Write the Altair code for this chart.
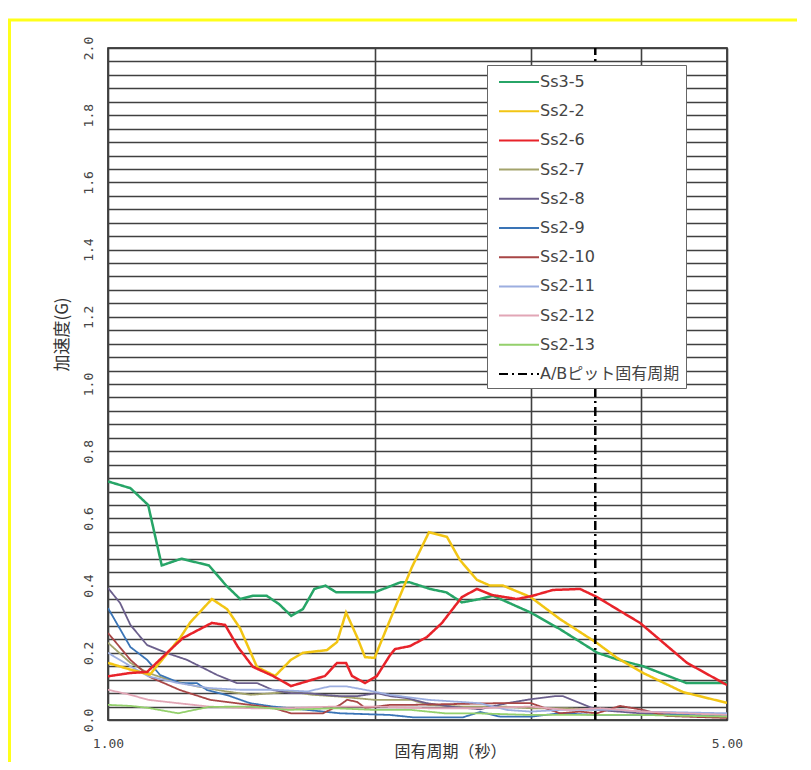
import altair as alt
import pandas as pd

# ---- data (period in s, acceleration in G) ----
names = ["Ss3-5", "Ss2-2", "Ss2-6", "Ss2-7", "Ss2-8", "Ss2-9", "Ss2-10",
         "Ss2-11", "Ss2-12", "Ss2-13", "A/Bピット固有周期"]
colors = ["#27a567", "#f2c514", "#e8232a", "#a3a36c", "#6b5f8c", "#3a74b6",
          "#a84646", "#9caee0", "#e2a6b6", "#94d06c", "#000000"]
major = ["Ss3-5", "Ss2-2", "Ss2-6", "A/Bピット固有周期"]

t_ss35 = [1.0, 1.06, 1.11, 1.15, 1.21, 1.30, 1.36, 1.41, 1.46, 1.51, 1.56, 1.61, 1.66,
          1.71, 1.76, 1.81, 2.0, 2.14, 2.19, 2.31, 2.41, 2.51, 2.63, 2.72, 3.0, 3.24,
          3.57, 3.76, 4.02, 4.5, 5.0]
a_ss35 = [0.71, 0.69, 0.64, 0.46, 0.48, 0.46, 0.40, 0.36, 0.37, 0.37, 0.345, 0.31, 0.33,
          0.39, 0.40, 0.38, 0.38, 0.41, 0.41, 0.39, 0.38, 0.35, 0.36, 0.37, 0.32, 0.27,
          0.20, 0.18, 0.16, 0.11, 0.11]

t_ss22 = [1.0, 1.06, 1.115, 1.16, 1.206, 1.238, 1.31, 1.363, 1.409, 1.473, 1.544, 1.609,
          1.66, 1.767, 1.814, 1.857, 1.911, 1.951, 2.0, 2.082, 2.204, 2.304, 2.414, 2.497,
          2.61, 2.70, 2.793, 3.0, 3.24, 3.566, 3.756, 4.02, 4.46, 5.0]
a_ss22 = [0.17, 0.15, 0.135, 0.19, 0.244, 0.29, 0.36, 0.33, 0.274, 0.158, 0.131, 0.179,
          0.20, 0.208, 0.232, 0.32, 0.247, 0.187, 0.185, 0.298, 0.455, 0.559, 0.545, 0.476,
          0.417, 0.40, 0.40, 0.366, 0.30, 0.229, 0.185, 0.14, 0.083, 0.051]

t_ss26 = [1.0, 1.06, 1.107, 1.166, 1.215, 1.31, 1.356, 1.402, 1.458, 1.536, 1.609, 1.758,
          1.814, 1.857, 1.886, 1.951, 2.012, 2.082, 2.109, 2.193, 2.292, 2.383, 2.51, 2.61,
          2.714, 2.896, 3.01, 3.18, 3.412, 3.566, 3.756, 3.988, 4.506, 5.0]
a_ss26 = [0.13, 0.14, 0.143, 0.20, 0.244, 0.289, 0.283, 0.217, 0.158, 0.131, 0.101, 0.131,
          0.17, 0.17, 0.131, 0.11, 0.131, 0.193, 0.211, 0.22, 0.247, 0.289, 0.366, 0.39,
          0.372, 0.36, 0.369, 0.387, 0.39, 0.366, 0.33, 0.289, 0.17, 0.104]

t_ss27 = [1.0, 1.06, 1.11, 1.17, 1.26, 1.36, 1.45, 1.54, 1.61, 1.70, 1.82, 2.0, 2.2, 2.3,
          2.5, 2.8, 3.0, 3.3, 3.6, 4.0, 4.5, 5.0]
a_ss27 = [0.23, 0.17, 0.14, 0.12, 0.10, 0.085, 0.075, 0.08, 0.085, 0.075, 0.07, 0.06, 0.06,
          0.045, 0.04, 0.04, 0.035, 0.035, 0.03, 0.025, 0.02, 0.01]

t_ss28 = [1.0, 1.032, 1.06, 1.107, 1.166, 1.228, 1.328, 1.398, 1.473, 1.536, 1.609, 1.678,
          1.767, 1.828, 1.911, 2.012, 2.082, 2.176, 2.292, 2.452, 2.631, 2.822, 3.004,
          3.197, 3.264, 3.566, 3.988, 5.0]
a_ss28 = [0.393, 0.348, 0.283, 0.223, 0.199, 0.179, 0.134, 0.11, 0.11, 0.089, 0.08, 0.08,
          0.074, 0.071, 0.071, 0.08, 0.071, 0.065, 0.05, 0.039, 0.032, 0.05, 0.062, 0.071,
          0.071, 0.03, 0.02, 0.015]

t_ss29 = [1.0, 1.06, 1.107, 1.145, 1.206, 1.26, 1.294, 1.363, 1.447, 1.536, 1.678, 1.828,
          2.082, 2.21, 2.517, 2.631, 2.771, 3.004, 3.239, 3.566, 5.0]
a_ss29 = [0.333, 0.217, 0.179, 0.134, 0.11, 0.11, 0.089, 0.074, 0.05, 0.04, 0.03, 0.02,
          0.015, 0.008, 0.008, 0.024, 0.01, 0.01, 0.02, 0.015, 0.015]

t_ss210 = [1.0, 1.06, 1.115, 1.206, 1.304, 1.447, 1.536, 1.609, 1.749, 1.828, 1.862, 1.911,
           1.951, 2.082, 2.193, 2.749, 3.004, 3.239, 3.412, 3.566, 3.786, 4.019, 4.277, 5.0]
a_ss210 = [0.259, 0.179, 0.128, 0.089, 0.06, 0.045, 0.036, 0.02, 0.02, 0.045, 0.06, 0.054,
           0.036, 0.045, 0.045, 0.05, 0.05, 0.02, 0.025, 0.02, 0.042, 0.03, 0.012, 0.006]

t_ss211 = [1.0, 1.06, 1.11, 1.2, 1.3, 1.41, 1.54, 1.68, 1.78, 1.86, 1.95, 2.08, 2.3, 2.63,
           2.82, 3.0, 3.24, 3.57, 3.76, 4.0, 5.0]
a_ss211 = [0.20, 0.16, 0.13, 0.11, 0.095, 0.09, 0.09, 0.085, 0.10, 0.10, 0.09, 0.075, 0.06,
           0.05, 0.03, 0.025, 0.03, 0.03, 0.03, 0.025, 0.02]

t_ss212 = [1.0, 1.06, 1.11, 1.2, 1.3, 1.45, 1.6, 1.8, 2.0, 2.3, 2.6, 3.0, 3.3, 3.6, 4.0, 5.0]
a_ss212 = [0.09, 0.075, 0.06, 0.05, 0.04, 0.035, 0.035, 0.04, 0.04, 0.035, 0.035, 0.04,
           0.03, 0.035, 0.025, 0.015]

t_ss213 = [1.0, 1.06, 1.11, 1.2, 1.3, 1.45, 1.6, 1.8, 2.0, 2.2, 2.4, 2.6, 3.0, 3.5, 4.0, 5.0]
a_ss213 = [0.045, 0.042, 0.036, 0.02, 0.039, 0.04, 0.03, 0.035, 0.03, 0.03, 0.02, 0.02,
           0.015, 0.015, 0.015, 0.01]

t_pit = [3.55, 3.55]
a_pit = [0.0, 2.0]

x_ticks = [1, 2, 3, 4, 5]
y_ticks = [round(i * 0.04, 2) for i in range(51)]

series = [
    (names[0], t_ss35, a_ss35), (names[1], t_ss22, a_ss22), (names[2], t_ss26, a_ss26),
    (names[3], t_ss27, a_ss27), (names[4], t_ss28, a_ss28), (names[5], t_ss29, a_ss29),
    (names[6], t_ss210, a_ss210), (names[7], t_ss211, a_ss211), (names[8], t_ss212, a_ss212),
    (names[9], t_ss213, a_ss213), (names[10], t_pit, a_pit),
]
rows = []
for name, ts, accs in series:
    for i, (t, a) in enumerate(zip(ts, accs)):
        rows.append({"T": t, "acc": a, "series": name, "i": i,
                     "major": name in major})
df = pd.DataFrame(rows)

dashes = [[1, 0]] * 10 + [[9, 4, 2, 4]]

W, H = 619, 672

legend = alt.Legend(
    title=None, orient="none", legendX=379, legendY=17,
    fillColor="white", strokeColor="#666", padding=6,
    symbolType="M-0.5,0H3.5", symbolSize=400, symbolStrokeWidth=2,
    labelFont="DejaVu Sans, Noto Sans CJK JP", labelFontSize=16, labelColor="#444",
    labelOffset=25, rowPadding=10.2, labelLimit=300,
)

x_enc = alt.X("T:Q",
              scale=alt.Scale(type="log", domain=[1, 5], nice=False),
              axis=alt.Axis(values=x_ticks, grid=True, ticks=False, domain=False,
                            labelExpr="(datum.value == 1 || datum.value == 5) ? format(datum.value, '.2f') : ''",
                            labelFlush=False, labelPadding=17, labelFont="DejaVu Sans Mono",
                            labelFontSize=13, labelColor="#444",
                            title="固有周期（秒）", titleFont="Noto Sans CJK JP",
                            titleFontSize=16, titleFontWeight="normal", titleColor="#333",
                            titleX=342, titleY=31, titleBaseline="middle", titleAlign="center"))
y_enc = alt.Y("acc:Q",
              scale=alt.Scale(domain=[0, 2], nice=False, zero=True),
              axis=alt.Axis(values=y_ticks, grid=True, ticks=False, domain=False,
                            labelExpr="(abs(round(datum.value * 100)) % 20 == 0) ? format(datum.value, '.1f') : ''",
                            labelAngle=270, labelAlign="center", labelBaseline="middle",
                            labelPadding=20, labelFont="DejaVu Sans Mono", labelFontSize=13,
                            labelColor="#444", labelFlush=False,
                            title="加速度(G)", titleFont="Noto Sans CJK JP", titleFontSize=17,
                            titleFontWeight="normal", titleColor="#333",
                            titleX=-46, titleY=286, titleAlign="center", titleBaseline="middle"))
color_enc = alt.Color("series:N", scale=alt.Scale(domain=names, range=colors), legend=legend)
dash_enc = alt.StrokeDash("series:N", scale=alt.Scale(domain=names, range=dashes), legend=legend)

base = alt.Chart(df).encode(x=x_enc, y=y_enc, color=color_enc, strokeDash=dash_enc, order="i:Q")

minor_lines = base.transform_filter("!datum.major").mark_line(clip=True, strokeWidth=1.8)
major_lines = base.transform_filter("datum.major").mark_line(clip=True, strokeWidth=2.5)

frame = alt.Chart(pd.DataFrame({"k": [0]})).mark_rect(
    fill=None, stroke="#ffff1a", strokeWidth=3, clip=False
).encode(
    x=alt.value(-98.5), x2=alt.value(W + 120),
    y=alt.value(-28), y2=alt.value(H + 80),
)

chart = alt.layer(frame, minor_lines, major_lines).properties(
    width=W, height=H,
    autosize=alt.AutoSizeParams(type="none"),
    padding={"left": 100, "top": 40, "right": 70, "bottom": 42},
).configure_view(
    stroke="#111", strokeWidth=1.5
).configure_axis(
    gridColor="#404040", gridWidth=1.6, gridOpacity=1
)

chart.save("out.html", embed_options={"renderer": "svg", "actions": False})
